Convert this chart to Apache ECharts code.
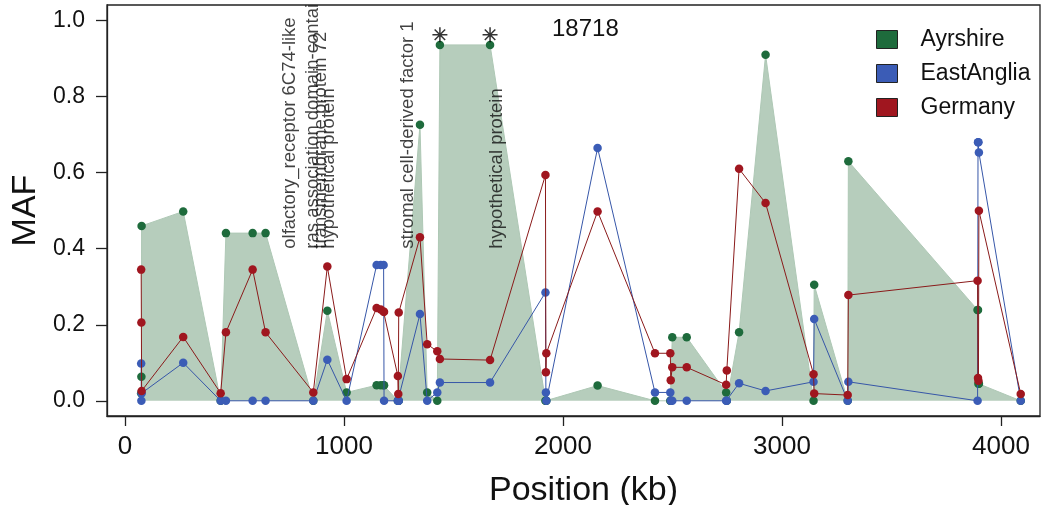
<!DOCTYPE html>
<html>
<head>
<meta charset="utf-8">
<script src="https://cdn.jsdelivr.net/npm/echarts@6/dist/echarts.min.js"></script>
<style>
  html, body { margin: 0; padding: 0; background: #fff; }
  #chart { width: 1055px; height: 505px; }
</style>
</head>
<body>
<div id="chart"></div>
<script>
// SNP positions (kb) and MAF per population
const positions  = [74, 75, 76, 266, 437, 461, 583, 642, 860, 924, 1012, 1149, 1168, 1181, 1183, 1246, 1248, 1250, 1347, 1380, 1426, 1438, 1667, 1920, 1922, 1924, 2158, 2420, 2490, 2492, 2499, 2565, 2745, 2748, 2804, 2925, 3144, 3147, 3300, 3303, 3893, 3895, 3897, 3899, 4090]
const ayrshire   = [0.02, 0.063, 0.46, 0.498, 0.0, 0.441, 0.441, 0.441, 0.0, 0.237, 0.022, 0.041, 0.041, 0.041, 0.041, 0.0, 0.0, 0.0, 0.726, 0.022, 0.0, 0.936, 0.936, 0.0, 0.0, 0.0, 0.04, 0.0, 0.0, 0.0, 0.167, 0.167, 0.022, 0.0, 0.18, 0.91, 0.0, 0.305, 0.0, 0.63, 0.239, 0.239, 0.045, 0.045, 0.0]
const eastAnglia = [0.098, 0.0, 0.02, 0.10, 0.0, 0.0, 0.0, 0.0, 0.0, 0.108, 0.0, 0.357, 0.357, 0.357, 0.0, 0.0, 0.0, 0.0, 0.228, 0.0, 0.022, 0.048, 0.048, 0.285, 0.022, 0.0, 0.665, 0.022, 0.022, 0.0, 0.0, 0.0, 0.0, 0.0, 0.046, 0.026, 0.05, 0.215, 0.0, 0.05, 0.0, 0.68, 0.68, 0.653, 0.0]
const germany    = [0.345, 0.206, 0.026, 0.168, 0.02, 0.18, 0.345, 0.18, 0.022, 0.353, 0.057, 0.244, 0.24, 0.234, 0.234, 0.065, 0.018, 0.232, 0.43, 0.149, 0.13, 0.11, 0.107, 0.594, 0.075, 0.125, 0.498, 0.125, 0.125, 0.054, 0.088, 0.088, 0.042, 0.08, 0.61, 0.52, 0.07, 0.019, 0.015, 0.278, 0.316, 0.06, 0.053, 0.5, 0.018]

// gene annotations
const geneNames     = ['olfactory_receptor 6C74-like', 'ras association domain-contai', 'transmembrane protein 72', 'hypothetical protein', 'stromal cell-derived factor 1', 'hypothetical protein']
const genePositions = [753, 858, 895, 932, 1292, 1699]
const geneLevel = 0.4

// significant SNPs
const starPositions = [1438, 1667]
const starLevel = 0.963

const xTicks = [0, 1000, 2000, 3000, 4000]
const yTicks = [0, 0.2, 0.4, 0.6, 0.8, 1.0]

const FONT = 'Liberation Sans'
const pairs = (ys) => positions.map((p, i) => [p, ys[i]])

const chart = echarts.init(document.getElementById('chart'))
chart.setOption({
  animation: false,
  title: {
    text: '18718',
    left: 547,
    top: 12,
    textStyle: { fontFamily: FONT, fontSize: 24, fontWeight: 'normal', color: '#111' }
  },
  legend: {
    orient: 'vertical',
    left: 871,
    top: 23,
    itemWidth: 21,
    itemHeight: 18,
    itemGap: 11,
    icon: 'rect',
    itemStyle: { borderColor: '#222', borderWidth: 1 },
    textStyle: { fontFamily: FONT, fontSize: 23, color: '#111', padding: [0, 0, 0, 18] },
    data: ['Ayrshire', 'EastAnglia', 'Germany']
  },
  grid: {
    left: 107, top: 5, right: 15, bottom: 89,
    outerBoundsMode: 'none',
    show: true, borderColor: '#222', borderWidth: 1.3
  },
  xAxis: {
    type: 'value',
    min: -82, max: 4178,
    name: 'Position (kb)',
    nameLocation: 'middle',
    nameGap: 58,
    nameTextStyle: { fontFamily: FONT, fontSize: 34, color: '#111', padding: [0, 0, 0, 20] },
    axisLine: { show: true, onZero: false, lineStyle: { color: '#222', width: 1.3 } },
    axisTick: { show: true, customValues: xTicks, length: 10, lineStyle: { color: '#222', width: 1.3 } },
    axisLabel: {
      customValues: xTicks, margin: 18, fontFamily: FONT, fontSize: 26, color: '#111',
      formatter: v => String(v)
    },
    splitLine: { show: false }
  },
  yAxis: {
    type: 'value',
    min: -0.040, max: 1.041,
    name: 'MAF',
    nameLocation: 'middle',
    nameGap: 58,
    nameTextStyle: { fontFamily: FONT, fontSize: 34, color: '#111' },
    axisLine: { show: true, onZero: false, lineStyle: { color: '#222', width: 1.3 } },
    axisTick: { show: true, customValues: yTicks, length: 11, lineStyle: { color: '#222', width: 1.3 } },
    axisLabel: {
      customValues: yTicks, margin: 22, fontFamily: FONT, fontSize: 23, color: '#111',
      formatter: v => v.toFixed(1)
    },
    splitLine: { show: false }
  },
  series: [
    {
      name: 'Ayrshire',
      type: 'line',
      data: pairs(ayrshire),
      symbol: 'circle',
      symbolSize: 8.5,
      itemStyle: { color: '#1e6b3c' },
      lineStyle: { color: '#aec8b5', width: 1 },
      areaStyle: { color: '#b6cdbc', opacity: 1, origin: 0 },
      z: 1
    },
    {
      name: 'EastAnglia',
      type: 'line',
      data: pairs(eastAnglia),
      symbol: 'circle',
      symbolSize: 8.5,
      itemStyle: { color: '#3b5cb6' },
      lineStyle: { color: '#3656a8', width: 1 },
      z: 2
    },
    {
      name: 'Germany',
      type: 'line',
      data: pairs(germany),
      symbol: 'circle',
      symbolSize: 8.5,
      itemStyle: { color: '#a0161f' },
      lineStyle: { color: '#8a1a1a', width: 1 },
      z: 3
    },
    {
      name: 'genes',
      type: 'scatter',
      data: genePositions.map((p, i) => ({ name: geneNames[i], value: [p, geneLevel] })),
      symbolSize: 1,
      itemStyle: { color: 'rgba(0,0,0,0)' },
      label: {
        show: true,
        formatter: p => p.name,
        position: 'inside',
        rotate: 90,
        align: 'left',
        verticalAlign: 'middle',
        fontFamily: FONT,
        fontSize: 18.5,
        color: '#111'
      },
      silent: true,
      z: 4
    },
    {
      name: 'stars',
      type: 'scatter',
      data: starPositions.map(p => [p, starLevel]),
      symbol: 'path://M10,0L10,20M0,10L20,10M3,3L17,17M3,17L17,3',
      symbolSize: 15,
      itemStyle: { color: 'rgba(0,0,0,0)', borderColor: '#000', borderWidth: 1.5 },
      silent: true,
      z: 5
    }
  ]
})
</script>
</body>
</html>
